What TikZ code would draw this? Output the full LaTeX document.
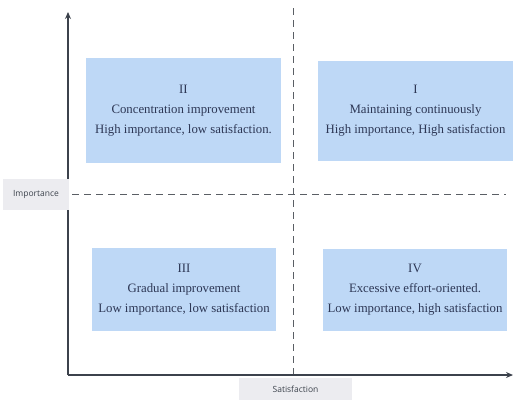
\documentclass[tikz,border=0pt]{standalone}
\usepackage{fontspec}
\setmainfont{Liberation Serif}
\newfontfamily\labfont{Open Sans}
\usetikzlibrary{arrows.meta}
\definecolor{boxblue}{RGB}{190,216,246}
\definecolor{txtcol}{RGB}{45,55,85}
\definecolor{axcol}{RGB}{60,66,76}
\definecolor{dashcol}{RGB}{90,94,100}
\definecolor{labbg}{RGB}{236,236,240}
\tikzset{
  quad/.style={fill=boxblue, draw=none, text=txtcol, align=center, font=\fontsize{12.8}{20}\selectfont, inner sep=0pt},
  axisline/.style={draw=axcol, line width=1.2pt, -{Stealth[length=7pt,width=6pt]}},
  dashline/.style={draw=dashcol, line width=0.8pt, dash pattern=on 7pt off 5pt},
  labbox/.style={fill=labbg, text=axcol, font=\labfont\fontsize{8.5}{10}\selectfont, inner sep=0pt}
}
\begin{document}
\begin{tikzpicture}[x=1pt,y=-1pt]
\useasboundingbox (0,0) rectangle (515,400);
% boxes
\node[quad, minimum width=195pt, minimum height=105pt] (q2) at (183.5,110.5) {II\\Concentration improvement\\High importance, low satisfaction.};
\node[quad, minimum width=195pt, minimum height=100pt] (q1) at (415.5,111) {I\\Maintaining continuously\\High importance, High satisfaction};
\node[quad, minimum width=184pt, minimum height=83pt] (q3) at (184,289.5) {III\\Gradual improvement\\Low importance, low satisfaction};
\node[quad, minimum width=184pt, minimum height=82pt] (q4) at (415,290) {IV\\Excessive effort-oriented.\\Low importance, high satisfaction};
% coordinates
\coordinate (o) at (68,375);
\coordinate (ytop) at (68,12);
\coordinate (xend) at (513,375);
\coordinate (vtop) at (293,8);
\coordinate (vbot) at (293,375);
\coordinate (hl) at (72,194);
\coordinate (hr) at (506,194);
% dashed
\draw[dashline] (vtop) -- (vbot);
\draw[dashline] (hl) -- (hr);
% axes
\draw[axisline] (o) -- (ytop);
\draw[axisline] (o) -- (xend);
% labels
\node[labbox, minimum width=66pt, minimum height=31pt] (imp) at (36,194) {Importance};
\node[labbox, minimum width=113pt, minimum height=22pt] (sat) at (295.5,389) {Satisfaction};
\end{tikzpicture}
\end{document}
